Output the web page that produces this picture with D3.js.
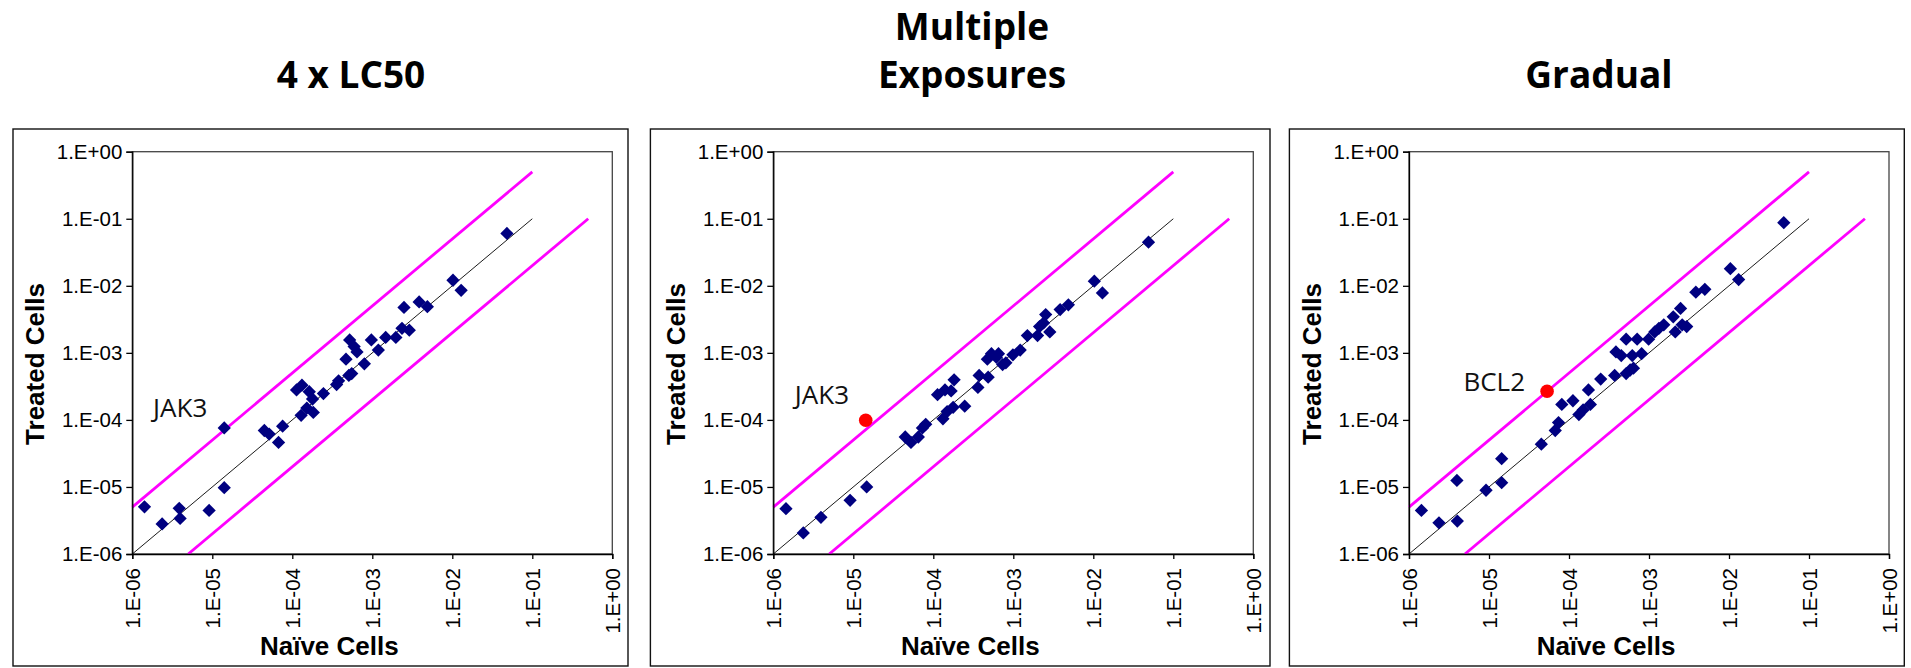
<!DOCTYPE html>
<html>
<head>
<meta charset="utf-8">
<script src="https://cdn.jsdelivr.net/npm/d3@7/dist/d3.min.js"></script>
<style>
  html, body { margin: 0; padding: 0; background: #fff; }
  svg { display: block; }
  .title { font-family: "Open Sans", sans-serif; font-weight: 700; font-size: 37px; fill: #000; }
  .tick text { font-family: "Liberation Sans", Arial, sans-serif; font-size: 20.5px; fill: #000; }
  .axis-title { font-family: "Liberation Sans", Arial, sans-serif; font-weight: 700; font-size: 26px; fill: #000; }
  .note { font-family: "Open Sans", sans-serif; font-size: 26px; fill: #111; }
</style>
</head>
<body>
<div id="chart"></div>
<script>
/* Naive vs treated cells — three log-log scatter panels */

const DECADES = [1e-6, 1e-5, 1e-4, 1e-3, 1e-2, 1e-1, 1];

const TITLES = [["4 x LC50"], ["Multiple", "Exposures"], ["Gradual"]];

// 4 x LC50
const LC50_NAIVE = [1.42e-6, 2.36e-6, 3.86e-6, 3.96e-6, 9.12e-6, 1.41e-5, 1.41e-5, 4.47e-5, 5.14e-5, 6.73e-5,
  7.57e-5, 1.13e-4, 1.32e-4, 1.29e-4, 1.52e-4, 1.63e-4, 1.83e-4, 1.79e-4, 2.45e-4, 3.58e-4,
  3.79e-4, 4.69e-4, 5.09e-4, 5.53e-4, 5.21e-4, 5.93e-4, 6.44e-4, 7.96e-4, 9.73e-4, 1.19e-3,
  1.47e-3, 1.97e-3, 2.35e-3, 2.90e-3, 2.49e-3, 3.85e-3, 4.88e-3, 1.02e-2, 1.29e-2, 4.82e-2];
const LC50_TREATED = [5.05e-6, 2.81e-6, 4.80e-6, 3.39e-6, 4.46e-6, 7.59e-5, 9.75e-6, 6.95e-5, 6.14e-5, 4.61e-5,
  8.07e-5, 2.80e-4, 3.29e-4, 1.17e-4, 1.50e-4, 2.63e-4, 1.29e-4, 2.05e-4, 2.47e-4, 3.37e-4,
  3.82e-4, 8.05e-4, 4.60e-4, 4.90e-4, 1.56e-3, 1.24e-3, 1.03e-3, 6.85e-4, 1.56e-3, 1.10e-3,
  1.70e-3, 1.70e-3, 2.32e-3, 2.18e-3, 4.76e-3, 5.74e-3, 4.89e-3, 1.21e-2, 8.55e-3, 6.03e-2];

// Multiple exposures
const MULTI_NAIVE = [1.44e-6, 2.37e-6, 3.94e-6, 9.12e-6, 1.47e-5, 4.46e-5, 5.26e-5, 6.50e-5, 7.31e-5, 8.04e-5,
  1.13e-4, 1.40e-4, 1.67e-4, 1.82e-4, 1.32e-4, 1.49e-4, 1.77e-4, 2.47e-4, 3.61e-4, 3.74e-4,
  4.85e-4, 4.74e-4, 5.33e-4, 6.15e-4, 6.53e-4, 7.35e-4, 8.07e-4, 9.89e-4, 1.22e-3, 1.50e-3,
  2.01e-3, 2.13e-3, 2.39e-3, 2.54e-3, 2.86e-3, 3.85e-3, 4.88e-3, 1.03e-2, 1.30e-2, 4.90e-2];
const MULTI_TREATED = [4.74e-6, 2.06e-6, 3.52e-6, 6.31e-6, 1.00e-5, 5.56e-5, 4.61e-5, 5.56e-5, 7.59e-5, 8.59e-5,
  2.38e-4, 2.80e-4, 2.70e-4, 3.96e-4, 1.04e-4, 1.33e-4, 1.54e-4, 1.60e-4, 3.05e-4, 4.60e-4,
  4.33e-4, 8.05e-4, 9.70e-4, 8.57e-4, 9.70e-4, 6.68e-4, 7.11e-4, 9.35e-4, 1.10e-3, 1.81e-3,
  1.81e-3, 2.47e-3, 2.79e-3, 3.72e-3, 2.05e-3, 4.43e-3, 5.20e-3, 1.17e-2, 7.83e-3, 4.47e-2];

// Gradual
const GRAD_NAIVE = [1.43e-6, 2.37e-6, 3.97e-6, 4.02e-6, 9.18e-6, 1.44e-5, 1.44e-5, 4.51e-5, 6.73e-5, 7.40e-5,
  8.13e-5, 1.12e-4, 1.33e-4, 1.50e-4, 1.75e-4, 1.85e-4, 2.49e-4, 3.72e-4, 3.86e-4, 4.50e-4,
  5.18e-4, 5.18e-4, 5.82e-4, 6.40e-4, 6.18e-4, 7.11e-4, 8.09e-4, 9.89e-4, 1.18e-3, 1.33e-3,
  1.53e-3, 2.01e-3, 2.13e-3, 2.48e-3, 2.60e-3, 2.96e-3, 3.85e-3, 4.99e-3, 1.04e-2, 1.32e-2, 4.84e-2];
const GRAD_TREATED = [4.46e-6, 2.92e-6, 1.25e-5, 3.10e-6, 8.93e-6, 2.64e-5, 1.16e-5, 4.34e-5, 6.95e-5, 9.14e-5,
  1.70e-4, 1.93e-4, 1.20e-4, 1.41e-4, 2.80e-4, 1.70e-4, 4.06e-4, 4.60e-4, 1.03e-3, 9.12e-4,
  1.60e-3, 4.90e-4, 5.55e-4, 5.90e-4, 9.12e-4, 1.60e-3, 9.70e-4, 1.60e-3, 2.05e-3, 2.32e-3,
  2.62e-3, 3.45e-3, 2.05e-3, 4.59e-3, 2.62e-3, 2.47e-3, 8.04e-3, 8.87e-3, 1.80e-2, 1.24e-2, 8.75e-2];

// highlighted gene (red dot) and its label, per panel: null where no dot
const HIGHLIGHT_X = [null, 1.43e-5, 5.32e-5];
const HIGHLIGHT_Y = [null, 9.9e-5, 2.68e-4];
const NOTE_TEXT = ["JAK3", "JAK3", "BCL2"];
const NOTE_X = [1.82e-6, 1.86e-6, 4.79e-6];
const NOTE_Y = [1.11e-4, 1.71e-4, 2.71e-4];

// reference lines: y = x, y = 5x, y = x / 5
const IDENTITY_LINE = [[1e-6, 1e-6], [1e-1, 1e-1]];
const UPPER_LINE = [[1e-6, 5e-6], [1e-1, 5e-1]];
const LOWER_LINE = [[5e-6, 1e-6], [5e-1, 1e-1]];

const NAIVE = [LC50_NAIVE, MULTI_NAIVE, GRAD_NAIVE];
const TREATED = [LC50_TREATED, MULTI_TREATED, GRAD_TREATED];

// ── Layout ─────────────────────────────────────────────────────────────────────

const W = 1911, H = 668;
const PLOT_LEFT = [132.3, 773.3, 1409];
const BOX_LEFT = [13, 650.4, 1289.4];
const BOX_RIGHT = [628, 1270, 1904.3];
const TITLE_CX = [351, 972, 1599];
const PLOT_TOP = 151.7, PW = 480, PH = 402.3;

const svg = d3.select("#chart").append("svg").attr("width", W).attr("height", H);

const expFmt = d => {
  const e = Math.round(Math.log10(d));
  return "1.E" + (e < 0 ? "-" : "+") + String(Math.abs(e)).padStart(2, "0");
};

for (let p = 0; p < 3; p++) {
  // outer frame
  svg.append("rect")
    .attr("x", BOX_LEFT[p]).attr("y", 129)
    .attr("width", BOX_RIGHT[p] - BOX_LEFT[p]).attr("height", 537)
    .attr("fill", "none").attr("stroke", "#111").attr("stroke-width", 1.4);

  // title
  const lines = TITLES[p];
  lines.forEach((t, i) => {
    svg.append("text").attr("class", "title")
      .attr("x", TITLE_CX[p])
      .attr("y", 88 - (lines.length - 1 - i) * 48)
      .attr("text-anchor", "middle")
      .text(t);
  });

  const x = d3.scaleLog().domain([1e-6, 1]).range([0, PW]);
  const y = d3.scaleLog().domain([1e-6, 1]).range([PH, 0]);

  const g = svg.append("g").attr("transform", `translate(${PLOT_LEFT[p]},${PLOT_TOP})`);

  // plot area frame (top/right)
  g.append("rect").attr("width", PW).attr("height", PH)
    .attr("fill", "none").attr("stroke", "#444").attr("stroke-width", 1.3);

  const clipId = "clip" + p;
  g.append("clipPath").attr("id", clipId)
    .append("rect").attr("x", -2).attr("y", -2).attr("width", PW + 4).attr("height", PH + 2);

  const inner = g.append("g").attr("clip-path", `url(#${clipId})`);
  const line = d3.line().x(d => x(d[0])).y(d => y(d[1]));

  [UPPER_LINE, LOWER_LINE].forEach(l => {
    inner.append("path").attr("d", line(l))
      .attr("fill", "none").attr("stroke", "#ff00ff").attr("stroke-width", 2.8);
  });
  inner.append("path").attr("d", line(IDENTITY_LINE))
    .attr("fill", "none").attr("stroke", "#000").attr("stroke-width", 0.9);

  const pts = NAIVE[p].map((v, i) => [v, TREATED[p][i]]);
  const diamond = d3.symbol().type(d3.symbolSquare).size(88);
  inner.selectAll("path.pt").data(pts).join("path")
    .attr("class", "pt")
    .attr("d", diamond)
    .attr("transform", d => `translate(${x(d[0])},${y(d[1])}) rotate(45)`)
    .attr("fill", "#000080");

  if (HIGHLIGHT_X[p] != null) {
    inner.append("circle")
      .attr("cx", x(HIGHLIGHT_X[p])).attr("cy", y(HIGHLIGHT_Y[p]))
      .attr("r", 6.8).attr("fill", "#ff0000");
  }

  g.append("text").attr("class", "note")
    .attr("x", x(NOTE_X[p])).attr("y", y(NOTE_Y[p]))
    .text(NOTE_TEXT[p]);

  // axes
  const ya = g.append("g")
    .call(d3.axisLeft(y).tickValues(DECADES).tickFormat(expFmt).tickSize(6).tickPadding(4));
  const xa = g.append("g").attr("transform", `translate(0,${PH})`)
    .call(d3.axisBottom(x).tickValues(DECADES).tickFormat(expFmt).tickSize(5));
  xa.selectAll(".tick text")
    .attr("transform", "rotate(-90)")
    .attr("x", -14).attr("y", 0).attr("dy", "0.36em")
    .attr("text-anchor", "end");
  [ya, xa].forEach(a => {
    a.select(".domain").attr("stroke", "#000").attr("stroke-width", 1.3);
    a.selectAll(".tick line").attr("stroke", "#000").attr("stroke-width", 1.3);
  });

  // axis titles
  g.append("text").attr("class", "axis-title")
    .attr("x", 197).attr("y", 655 - PLOT_TOP)
    .attr("text-anchor", "middle")
    .text("Naïve Cells");
  g.append("text").attr("class", "axis-title")
    .attr("transform", `translate(-88,${364 - PLOT_TOP}) rotate(-90)`)
    .attr("text-anchor", "middle")
    .text("Treated Cells");
}
</script>
</body>
</html>
